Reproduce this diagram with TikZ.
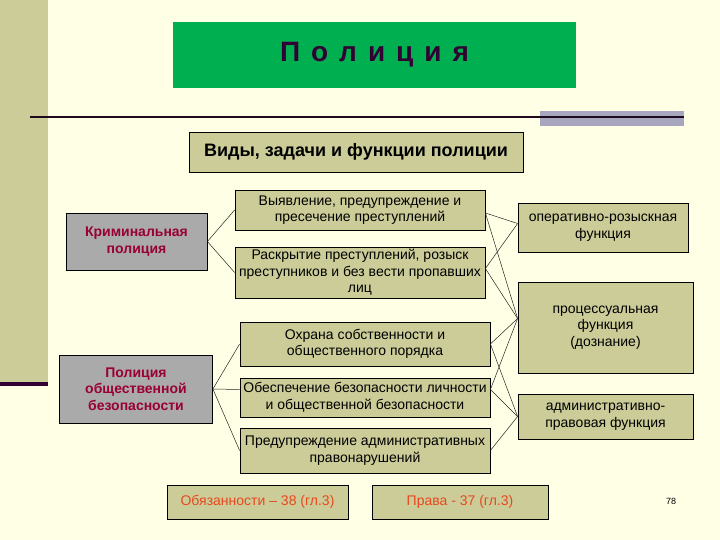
\documentclass[tikz,border=0pt]{standalone}
\usepackage{fontspec}
\setmainfont{Liberation Sans}
\usetikzlibrary{calc}
\definecolor{bgc}{RGB}{255,255,229}
\definecolor{olivec}{RGB}{204,204,153}
\definecolor{greenc}{RGB}{0,176,80}
\definecolor{darkp}{RGB}{51,0,51}
\definecolor{grayc}{RGB}{170,170,170}
\definecolor{redc}{RGB}{153,0,51}
\definecolor{orangec}{RGB}{232,72,30}
\definecolor{barc}{RGB}{168,166,190}
\definecolor{linec}{RGB}{30,10,30}
\begin{document}
\begin{tikzpicture}[x=1pt,y=-1pt,
  obox/.style={draw=black, line width=0.8pt, fill=olivec, inner sep=0pt, align=center,
    font=\fontsize{14}{16.5}\selectfont},
  gbox/.style={draw=black, line width=0.8pt, fill=grayc, inner sep=0pt, align=center,
    text=redc, font=\bfseries\fontsize{14}{16.5}\selectfont},
  bbox/.style={draw=black, line width=0.8pt, fill=olivec, inner sep=0pt, align=center,
    text=orangec, font=\fontsize{14}{16}\selectfont, minimum height=34pt},
  con/.style={draw=black!85, line width=0.5pt}]
\fill[bgc] (0,0) rectangle (720,540);
\useasboundingbox (0,0) rectangle (720,540);
% left stripe
\fill[olivec] (0,0) rectangle (48,382);
\fill[darkp] (0,382) rectangle (48,386);
% title
\node[fill=greenc, minimum width=403pt, minimum height=66pt, inner sep=0pt,
  text=darkp, font=\bfseries\fontsize{28}{30}\selectfont] (title) at (374.5,55)
  {П\kern11pt\relax о\kern11pt\relax л\kern11pt\relax и\kern11pt\relax ц\kern11pt\relax и\kern11pt\relax я};
% rule
\fill[barc] (540,111) rectangle (684,126);
\draw[linec, line width=2.7pt] (30,117) -- (684,117);
% heading
\node[obox, minimum width=334pt, minimum height=40pt, font=\bfseries\fontsize{18}{20}\selectfont]
  (vid) at (356,152) {Виды, задачи и функции полиции};
% left gray boxes
\node[gbox, minimum width=141pt, minimum height=57pt] (krim) at (136.5,241.5)
  {Криминальная\\полиция};
\node[gbox, minimum width=153pt, minimum height=68pt] (pob) at (136,389)
  {Полиция\\общественной\\безопасности};
% middle boxes
\node[obox, minimum width=250pt, minimum height=40pt] (m1) at (360,210)
  {Выявление, предупреждение и\\пресечение преступлений};
\node[obox, minimum width=250pt, minimum height=51pt] (m2) at (360,272.5)
  {Раскрытие преступлений, розыск\\преступников и без вести пропавших\\лиц};
\node[obox, minimum width=250pt, minimum height=44pt] (m3) at (365,344)
  {Охрана собственности и\\общественного порядка};
\node[obox, minimum width=250pt, minimum height=39pt] (m4) at (365,397.5)
  {Обеспечение безопасности личности\\и общественной безопасности};
\node[obox, minimum width=250pt, minimum height=45pt] (m5) at (365,450.5)
  {Предупреждение административных\\правонарушений};
% right boxes
\node[obox, minimum width=170pt, minimum height=49pt] (r1) at (603,227.5)
  {оперативно-розыскная\\функция};
\node[obox, minimum width=175pt, minimum height=91pt] (r2) at (605.5,327.5)
  {процессуальная\\функция\\(дознание)};
\node[obox, minimum width=175pt, minimum height=45pt] (r3) at (605.5,416.5)
  {административно-\\правовая функция};
% bottom boxes
\node[bbox, minimum width=181pt] (ob) at (257.5,502) {Обязанности – 38 (гл.3)};
\node[bbox, minimum width=176pt] (pr) at (460,502) {Права - 37 (гл.3)};
\node[font=\fontsize{9}{10}\selectfont, inner sep=0pt] (num) at (671,501) {78};
% connection points
\coordinate (r2c) at ($(r2.west)+(0,-9)$);
\coordinate (r1c) at ($(r1.west)+(0,-4)$);
\coordinate (m4w) at ($(m4.west)+(0,-8)$);
\coordinate (m4e) at ($(m4.east)+(0,-8)$);
\coordinate (m1e) at ($(m1.east)+(0,3)$);
\coordinate (m2e) at ($(m2.east)+(0,-4)$);
% connectors
\draw[con] (krim.east) -- (m1.west);
\draw[con] (krim.east) -- (m2.west);
\draw[con] (pob.east) -- (m3.west);
\draw[con] (pob.east) -- (m4w);
\draw[con] (pob.east) -- (m5.west);
\draw[con] (m1e) -- (r1c);
\draw[con] (m1e) -- (r2c);
\draw[con] (m2e) -- (r1c);
\draw[con] (m2e) -- (r2c);
\draw[con] (m3.east) -- (r2c);
\draw[con] (m3.east) -- (r3.west);
\draw[con] (m4e) -- (r2c);
\draw[con] (m4e) -- (r3.west);
\draw[con] (m5.east) -- (r3.west);
\end{tikzpicture}
\end{document}
